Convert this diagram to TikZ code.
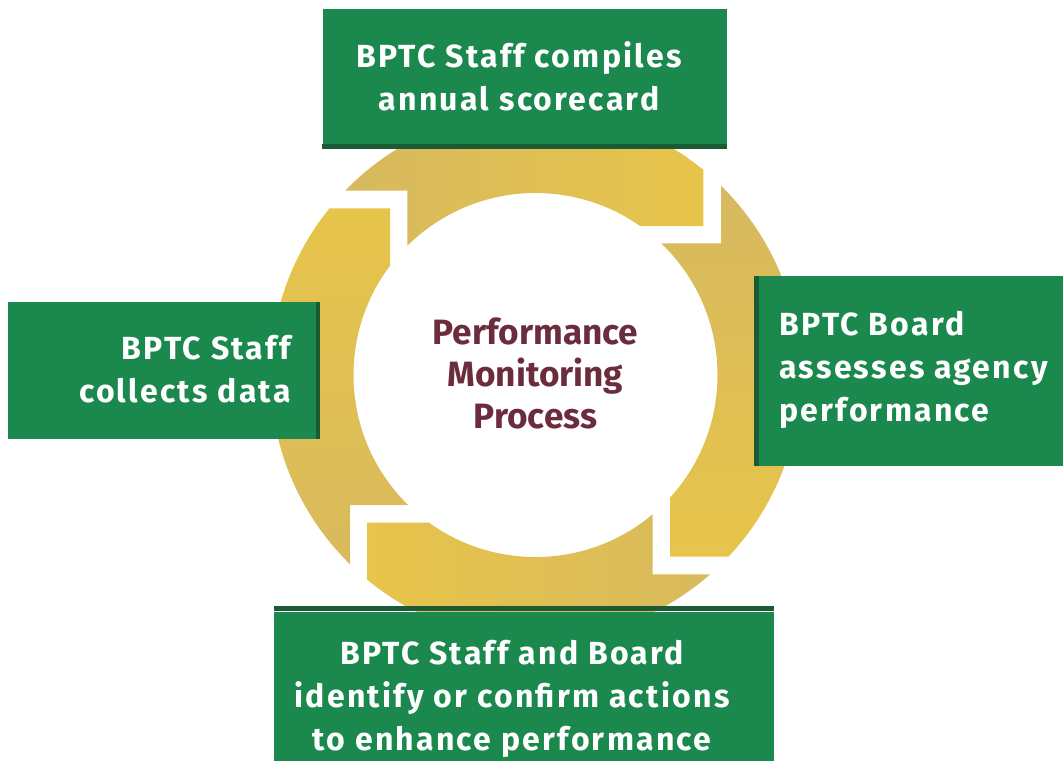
\documentclass[tikz,border=0pt]{standalone}
\usepackage{fontspec}
\setmainfont{Fira Sans}
\newfontfamily\boxfont{Fira Sans}[LetterSpace=7]
\usetikzlibrary{positioning,fit}
\definecolor{boxgreen}{RGB}{27,137,78}
\definecolor{boxdark}{RGB}{26,90,52}
\definecolor{ringtan}{RGB}{213,184,98}
\definecolor{ringgold}{RGB}{231,196,74}
\definecolor{maroon}{RGB}{107,45,62}
\begin{document}
\begin{tikzpicture}[x=0.5pt,y=-0.5pt,
	hop/.style={fill=boxgreen,inner sep=0pt,draw=none},
	chu/.style={text=white,inner sep=0pt,font=\boxfont\bfseries\fontsize{16}{21.5}\selectfont}]
	\def\R{265} % outer radius of the ring
	\def\r{182} % inner radius
	\useasboundingbox (0,0) rectangle (1063,761);
	\coordinate (O) at (535.5,375);
	% the four arrow pieces of the ring
	\begin{scope}[even odd rule]
		\clip (O) circle (\R) (O) circle (\r);
		\shade[left color=ringtan,right color=ringgold] 
		(300,100)--(300,190.7)--(407.3,190.7)--(407.3,260)--(O)--(620,226)--(703.3,226)--(703.3,100)--cycle;
		\shade[top color=ringtan,bottom color=ringgold] 
		(721,150)--(721,243.3)--(650,243.3)--(O)--(670,480)--(670,556.7)--(850,556.7)--(850,150)--cycle;
		\shade[left color=ringgold,right color=ringtan] 
		(800,574.3)--(652.7,574.3)--(652.7,500)--(O)--(450,522.7)--(367.7,522.7)--(367.7,700)--(800,700)--cycle;
		\shade[top color=ringgold,bottom color=ringtan] 
		(350,650)--(350,505)--(420,505)--(O)--(390,280)--(390,208.3)--(200,208.3)--(200,650)--cycle;
	\end{scope}
	\node[text=maroon,inner sep=0pt,align=center,font=\bfseries\fontsize{17.6}{21}\selectfont] 
	(process) at (535.5,373) {Performance\\Monitoring\\Process};
	% boxes
	\node[hop,fit={(322.5,9) (727,144)}] (topbox) {};
	\node[hop,fit={(8,302) (316,439)}] (leftbox) {};
	\node[hop,fit={(759,276) (1063,466)}] (rightbox) {};
	\node[hop,fit={(274,611.5) (774,761)}] (botbox) {};
	\fill[boxdark] (topbox.south west) rectangle ([yshift=-2.5pt]topbox.south east);
	\fill[boxdark] (leftbox.north east) rectangle ([xshift=2pt]leftbox.south east);
	\fill[boxdark] ([xshift=-2.5pt]rightbox.north west) rectangle (rightbox.south west);
	\fill[boxdark] ([yshift=2.75pt]botbox.north west) rectangle (botbox.north east);
	% texts
	\node[chu,align=center] (toptext) at (519,76) {BPTC Staff compiles\\annual scorecard};
	\node[chu,align=right,anchor=east] (lefttext) at (291,369) {BPTC Staff\\collects data};
	\node[chu,align=left,anchor=west] (righttext) at (779,370) {BPTC Board\\assesses agency\\performance};
	\node[chu,align=center] (bottext) at (512,699) {BPTC Staff and Board\\identify or confirm actions\\to enhance performance};
\end{tikzpicture}
\end{document}
